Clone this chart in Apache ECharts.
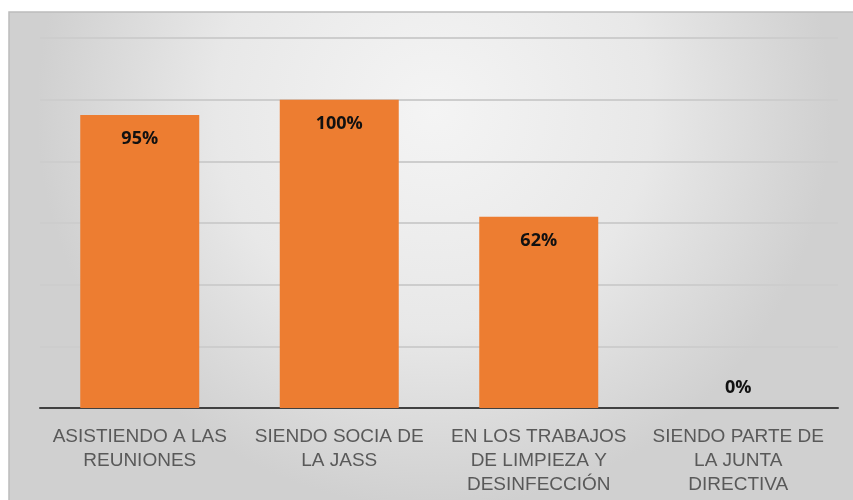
<!DOCTYPE html>
<html>
<head>
<meta charset="utf-8">
<script src="https://cdn.jsdelivr.net/npm/echarts@6/dist/echarts.min.js"></script>
<style>html,body{margin:0;padding:0;background:#fff}#c{width:853px;height:500px}</style>
</head>
<body>
<div id="c"></div>
<script>
var categories = ["ASISTIENDO A LAS\nREUNIONES", "SIENDO SOCIA DE\nLA JASS", "EN LOS TRABAJOS\nDE LIMPIEZA Y\nDESINFECCIÓN", "SIENDO PARTE DE\nLA JUNTA\nDIRECTIVA"];
var values = [95, 100, 62, 0];

var chart = echarts.init(document.getElementById('c'), null, {renderer: 'canvas'});
chart.setOption({
  animation: false,
  backgroundColor: '#ffffff',
  graphic: [{
    type: 'rect', z: -10, silent: true,
    shape: {x: 9, y: 12, width: 850, height: 495},
    style: {
      fill: {type: 'radial', x: 0.5, y: 0.2, r: 0.8,
        colorStops: [{offset: 0, color: '#f4f4f4'}, {offset: 0.55, color: '#e8e8e8'}, {offset: 1, color: '#d0d0d0'}]},
      stroke: '#bcbcbc', lineWidth: 1.5
    }
  }],
  grid: {left: 40, right: 15, top: 38, bottom: 92, containLabel: false},
  xAxis: {
    type: 'category', data: categories,
    axisLine: {lineStyle: {color: '#404040', width: 2}},
    axisTick: {show: false},
    axisLabel: {color: '#595959', fontSize: 19, fontFamily: 'Liberation Sans', lineHeight: 24, margin: 17, interval: 0}
  },
  yAxis: {
    type: 'value', min: 0, max: 120, interval: 20,
    axisLabel: {show: false}, axisLine: {show: false}, axisTick: {show: false},
    splitLine: {lineStyle: {color: '#cdcdcd', width: 2}}
  },
  series: [{
    type: 'bar', barWidth: 119,
    data: values.map(function(v){ return v === 0 ? {value: v, label: {position: 'top', distance: 11}} : v; }),
    itemStyle: {color: '#ed7d31'},
    label: {show: true, position: 'insideTop', distance: 15, formatter: '{c}%', color: '#111', fontWeight: 'bold', fontSize: 18, fontFamily: 'Open Sans'}
  }]
});
</script>
</body>
</html>
